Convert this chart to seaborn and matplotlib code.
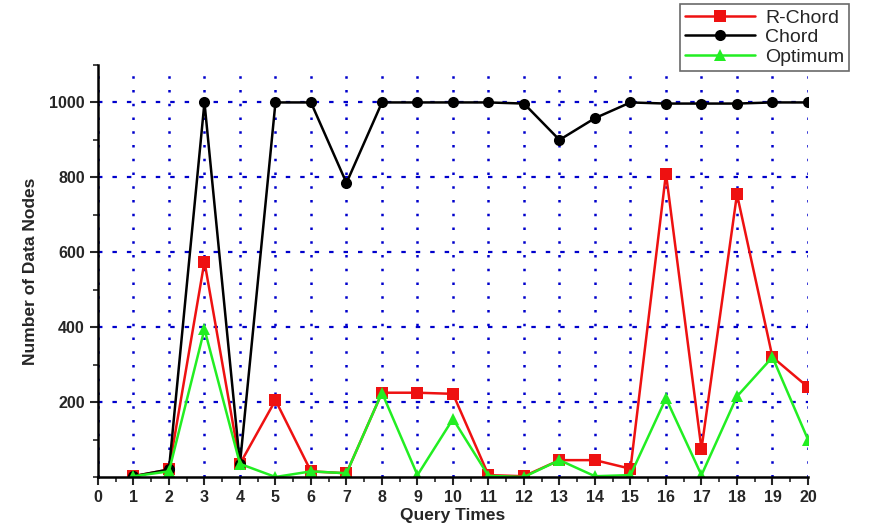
import numpy as np
import pandas as pd
import matplotlib
matplotlib.use("Agg")
import matplotlib.pyplot as plt
import seaborn as sns
from matplotlib.ticker import MultipleLocator, FixedLocator

query_times = list(range(1, 21))
r_chord = [2, 20, 575, 35, 205, 15, 10, 225, 225, 222, 5, 2, 45, 45, 22, 810, 75, 755, 320, 240]
chord = [2, 20, 1000, 35, 1000, 1000, 785, 1000, 1000, 1000, 1000, 997, 900, 958, 1000, 997, 997, 997, 1000, 1000]
optimum = [2, 15, 395, 35, 0, 15, 10, 225, 5, 155, 3, 0, 45, 2, 5, 210, 5, 215, 320, 100]
series_names = ["R-Chord", "Chord", "Optimum"]
y_ticks = [200, 400, 600, 800, 1000]
x_ticks = list(range(0, 21))

df = pd.DataFrame({
    "Query Times": query_times * 3,
    "Number of Data Nodes": r_chord + chord + optimum,
    "Series": sum([[n] * len(query_times) for n in series_names], []),
})

sns.set_style("white")
plt.rcParams['font.family'] = ['Liberation Sans', 'DejaVu Sans']

fig = plt.figure(figsize=(8.7, 5.27), dpi=100)
ax = fig.add_axes([0.1126, 0.0949, 0.8161, 0.7818])

palette = {"R-Chord": "#ee1111", "Chord": "#000000", "Optimum": "#22ee22"}
markers = {"R-Chord": "s", "Chord": "o", "Optimum": "^"}
sns.lineplot(data=df, x="Query Times", y="Number of Data Nodes", hue="Series",
             style="Series", markers=markers, dashes=False, palette=palette,
             hue_order=series_names, style_order=series_names,
             linewidth=1.8, markersize=8, markeredgewidth=0, ax=ax, legend=True)

ax.set_xlim(0, 20)
ax.set_ylim(0, 1100)
ax.xaxis.set_major_locator(FixedLocator(x_ticks))
ax.xaxis.set_minor_locator(MultipleLocator(0.5))
ax.yaxis.set_major_locator(FixedLocator(y_ticks))
ax.yaxis.set_minor_locator(MultipleLocator(100))
ax.set_xticklabels([str(t) for t in x_ticks], fontweight='bold', fontsize=11.5)
ax.set_yticklabels([str(t) for t in y_ticks], fontweight='bold', fontsize=11.5)
ax.tick_params(which='major', direction='out', length=6, width=1.5, bottom=True, left=True)
ax.tick_params(which='minor', direction='out', length=3.5, width=1.2, bottom=True, left=True)
ax.grid(True, which='major', axis='x', color='#0000cc', linestyle=(0, (1, 4.5)), linewidth=1.8)
ax.grid(True, which='major', axis='y', color='#0000cc', linestyle=(0, (2, 4.5)), linewidth=1.6)
for s in ['top', 'right']:
    ax.spines[s].set_visible(False)
for s in ['left', 'bottom']:
    ax.spines[s].set_linewidth(1.8)
    ax.spines[s].set_color('black')
ax.set_xlabel("Query Times", fontweight='bold', fontsize=12.5, labelpad=2)
ax.set_ylabel("Number of Data Nodes", fontweight='bold', fontsize=12.5, labelpad=8)

handles, labels = ax.get_legend_handles_labels()
ax.get_legend().remove()
leg = fig.legend(handles, labels, loc='upper left', bbox_to_anchor=(0.782, 0.992),
                 frameon=True, fancybox=False, edgecolor='#444444', fontsize=14,
                 handlelength=3.6, borderpad=0.25, labelspacing=0.1, handletextpad=0.5,
                 borderaxespad=0)
leg.get_frame().set_linewidth(1.2)

fig.savefig("out.png", dpi=100)
